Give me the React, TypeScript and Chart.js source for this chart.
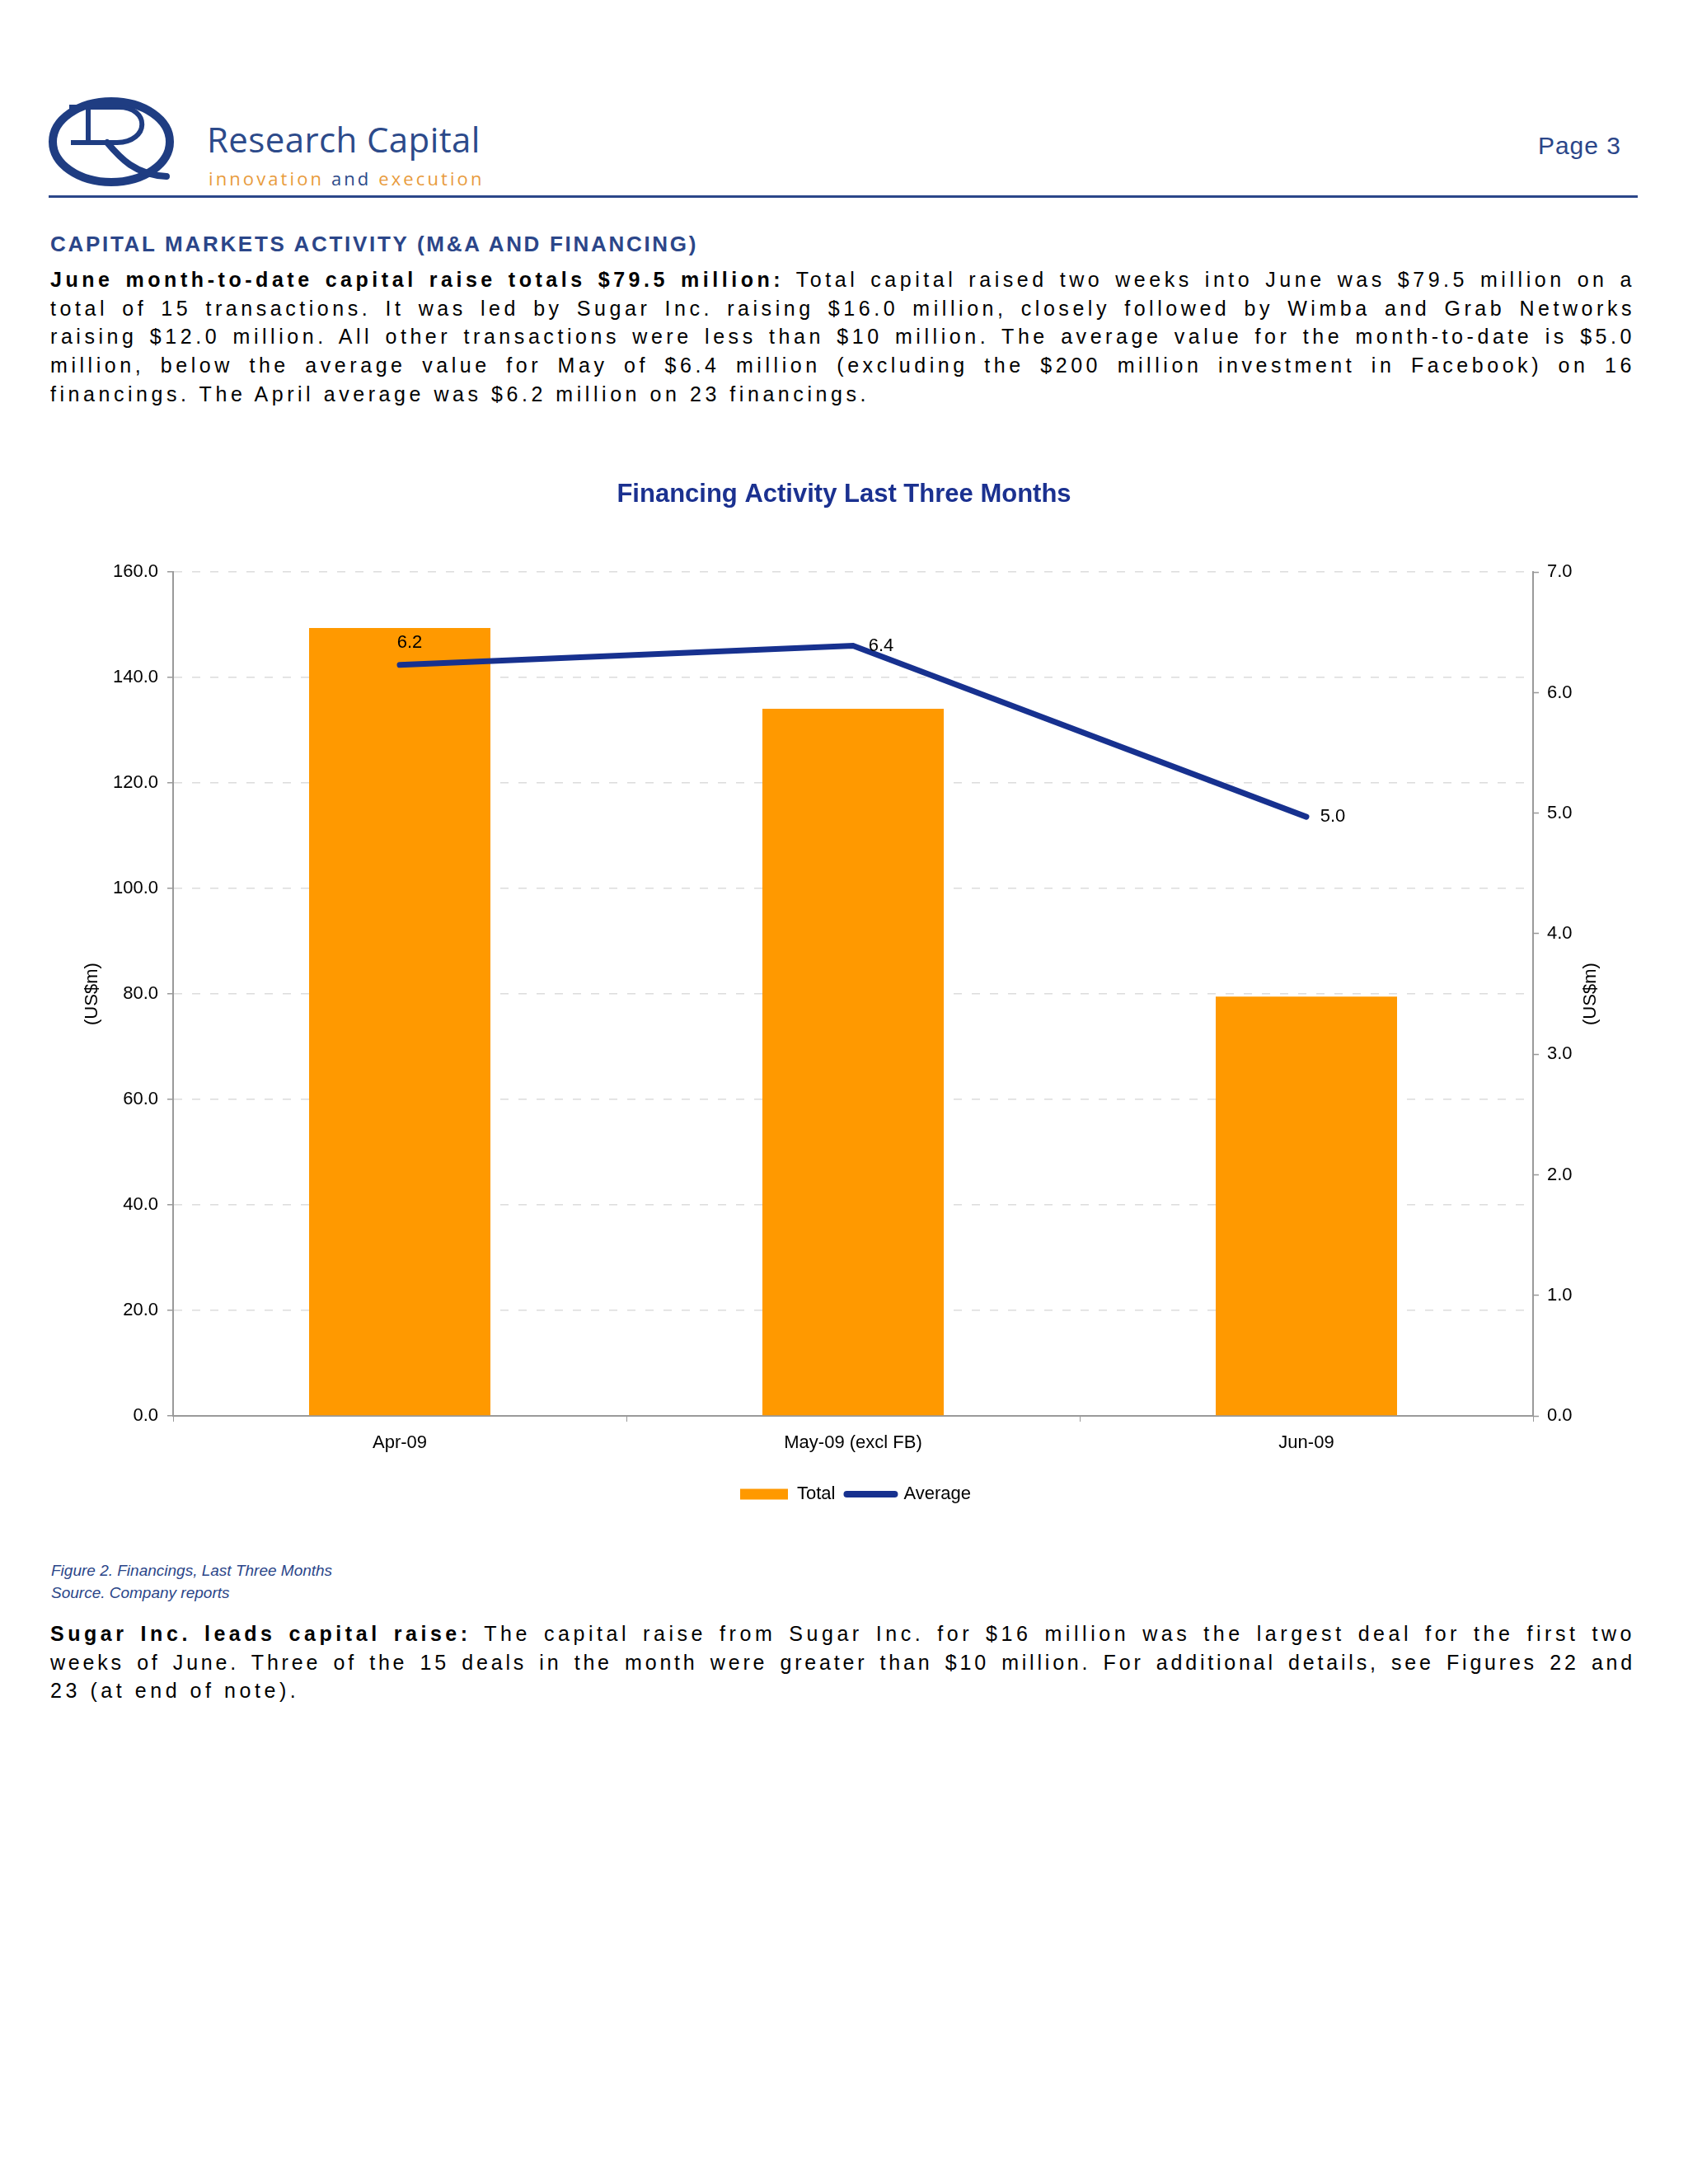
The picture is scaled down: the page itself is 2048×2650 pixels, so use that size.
import React, { useEffect, useRef } from 'react';
import { Chart, registerables } from 'chart.js';

Chart.register(...registerables);

// ---- data ----
const categories = ['Apr-09', 'May-09 (excl FB)', 'Jun-09'];
const totalValues = [149.4, 134.1, 79.5];
const averageValues = [6.23, 6.39, 4.97];
const leftAxisRange = [0, 160, 20];
const rightAxisRange = [0, 7, 1];
const seriesNames = ['Total', 'Average'];
const axisTitle = '(US$m)';
const chartTitle = 'Financing Activity Last Three Months';

const ORANGE = '#FF9900';
const NAVY = '#17318F';
const FONT = '"Liberation Sans", Arial, sans-serif';

const valueLabelPlugin = {
  id: 'valueLabels',
  afterDatasetsDraw(chart: any) {
    const meta = chart.getDatasetMeta(1);
    const offsets = [[12, -27], [34, 1], [32, 0]];
    const ctx = chart.ctx;
    ctx.save();
    ctx.font = `22px ${FONT}`;
    ctx.fillStyle = '#000';
    ctx.textAlign = 'center';
    ctx.textBaseline = 'middle';
    meta.data.forEach((pt: any, i: number) => {
      const o = offsets[i] || [0, -20];
      ctx.fillText(averageValues[i].toFixed(1), pt.x + o[0], pt.y + o[1]);
    });
    ctx.restore();
  },
};

const axisTitlePlugin = {
  id: 'axisTitles',
  afterDraw(chart: any) {
    const ctx = chart.ctx;
    const area = chart.chartArea;
    const cy = (area.top + area.bottom) / 2;
    ctx.save();
    ctx.font = `22px ${FONT}`;
    ctx.fillStyle = '#000';
    ctx.textAlign = 'center';
    ctx.textBaseline = 'middle';
    [112, 1930].forEach((x) => {
      ctx.save();
      ctx.translate(x, cy);
      ctx.rotate(-Math.PI / 2);
      ctx.fillText(axisTitle, 0, 0);
      ctx.restore();
    });
    ctx.restore();
  },
};

// nudges the legend block slightly right, as in the original figure
const legendShiftPlugin = {
  id: 'legendShift',
  afterLayout(chart: any) {
    if (chart.legend) {
      chart.legend.left += 14;
      chart.legend.right += 14;
    }
  },
};

function FinancingChart() {
  const ref = useRef<HTMLCanvasElement | null>(null);
  useEffect(() => {
    if (!ref.current) return;
    const chart = new Chart(ref.current, {
      type: 'bar',
      data: {
        labels: categories,
        datasets: [
          {
            type: 'bar',
            label: seriesNames[0],
            data: totalValues,
            backgroundColor: ORANGE,
            borderWidth: 0,
            barPercentage: 0.4,
            categoryPercentage: 1.0,
            yAxisID: 'y',
            order: 2,
          } as any,
          {
            type: 'line',
            label: seriesNames[1],
            data: averageValues,
            borderColor: NAVY,
            backgroundColor: NAVY,
            borderWidth: 7,
            borderCapStyle: 'round',
            borderJoinStyle: 'miter',
            pointRadius: 0,
            tension: 0,
            yAxisID: 'y1',
            order: 1,
          } as any,
        ],
      },
      options: {
        responsive: false,
        animation: false,
        devicePixelRatio: 1,
        layout: { padding: 0 },
        plugins: {
          title: {
            display: true,
            text: chartTitle,
            color: '#1B3190',
            font: { family: FONT, size: 31, weight: 'bold' },
            padding: { top: 42, bottom: 75 },
          },
          legend: {
            position: 'bottom',
            labels: {
              usePointStyle: true,
              pointStyleWidth: 58,
              boxHeight: 13,
              padding: 14,
              color: '#000',
              font: { family: FONT, size: 22 },
              generateLabels: () => [
                {
                  text: seriesNames[0],
                  fillStyle: ORANGE,
                  strokeStyle: ORANGE,
                  lineWidth: 0,
                  pointStyle: 'rect',
                  datasetIndex: 0,
                  hidden: false,
                },
                {
                  text: seriesNames[1],
                  fillStyle: NAVY,
                  strokeStyle: NAVY,
                  lineWidth: 8,
                  lineCap: 'round',
                  pointStyle: 'line',
                  datasetIndex: 1,
                  hidden: false,
                },
              ] as any,
            },
          },
          tooltip: { enabled: false },
        },
        scales: {
          x: {
            type: 'category',
            offset: true,
            grid: {
              offset: true,
              drawOnChartArea: false,
              drawTicks: true,
              tickLength: 7,
              tickColor: '#999',
              color: '#999',
            },
            border: { display: true, color: '#9a9a9a', width: 2 },
            ticks: {
              color: '#000',
              font: { family: FONT, size: 22 },
              padding: 13,
              maxRotation: 0,
            },
            afterFit: (s: any) => {
              s.height = 70;
            },
          },
          y: {
            position: 'left',
            min: leftAxisRange[0],
            max: leftAxisRange[1],
            ticks: {
              stepSize: leftAxisRange[2],
              color: '#000',
              font: { family: FONT, size: 22 },
              padding: 11,
              callback: (v: any) => Number(v).toFixed(1),
            },
            grid: {
              color: '#dcdcdc',
              lineWidth: 1.5,
              drawTicks: true,
              tickLength: 7,
              tickColor: '#999',
              tickBorderDash: [],
              tickWidth: 1.5,
            },
            border: { display: true, color: '#9a9a9a', width: 2, dash: [10, 12] },
            afterFit: (s: any) => {
              s.width = 210;
            },
          },
          y1: {
            position: 'right',
            min: rightAxisRange[0],
            max: rightAxisRange[1],
            ticks: {
              stepSize: rightAxisRange[2],
              color: '#000',
              font: { family: FONT, size: 22 },
              padding: 10,
              callback: (v: any) => Number(v).toFixed(1),
            },
            grid: {
              drawOnChartArea: false,
              drawTicks: true,
              tickLength: 7,
              tickColor: '#999',
              tickWidth: 1.5,
            },
            border: { display: true, color: '#9a9a9a', width: 2 },
            afterFit: (s: any) => {
              s.width = 188;
            },
          },
        },
      } as any,
      plugins: [valueLabelPlugin, axisTitlePlugin, legendShiftPlugin],
    });
    return () => chart.destroy();
  }, []);
  return (
    <canvas
      ref={ref}
      width={2048}
      height={1294}
      style={{ position: 'absolute', left: 0, top: 540, width: 2048, height: 1294 }}
    />
  );
}

const bodyText: React.CSSProperties = {
  fontFamily: FONT,
  fontSize: 25,
  letterSpacing: '4.55px',
  lineHeight: '34.7px',
  color: '#000',
};

const jl: React.CSSProperties = { textAlign: 'justify', textAlignLast: 'justify' as any };

function Logo() {
  const c = '#1F3D82';
  return (
    <svg
      width={170}
      height={120}
      viewBox="0 0 170 120"
      style={{ position: 'absolute', left: 54, top: 112 }}
    >
      <ellipse cx={81} cy={60} rx={71} ry={49} fill="none" stroke={c} strokeWidth={10} />
      <path d="M 30 18 L 90 18 C 128 18 128 60 88 61 L 32 61" fill="none" stroke={c} strokeWidth={6} />
      <path d="M 53 18 L 53 61" fill="none" stroke={c} strokeWidth={6} />
      <path d="M 76 61 C 92 80 110 100 148 102" fill="none" stroke={c} strokeWidth={8} strokeLinecap="round" />
    </svg>
  );
}

export default function App() {
  return (
    <div
      style={{
        position: 'absolute',
        left: 0,
        top: 0,
        width: 2048,
        height: 2650,
        background: '#fff',
        overflow: 'hidden',
      }}
    >
      <Logo />
      <div
        style={{
          position: 'absolute',
          left: 251,
          top: 148,
          fontFamily: '"Open Sans", sans-serif',
          fontSize: 42,
          lineHeight: '42px',
          letterSpacing: '0.4px',
          color: '#2C4A8A',
          whiteSpace: 'nowrap',
        }}
      >
        Research Capital
      </div>
      <div
        style={{
          position: 'absolute',
          left: 253,
          top: 205,
          fontFamily: '"Open Sans", sans-serif',
          fontSize: 22,
          lineHeight: '22px',
          letterSpacing: '3.1px',
          color: '#E89B3C',
          whiteSpace: 'nowrap',
        }}
      >
        innovation <span style={{ color: '#2C4A8A' }}>and</span> execution
      </div>
      <div
        style={{
          position: 'absolute',
          left: 1667,
          width: 300,
          top: 162,
          textAlign: 'right',
          fontFamily: FONT,
          fontSize: 30,
          lineHeight: '30px',
          letterSpacing: '1px',
          color: '#2B4689',
        }}
      >
        Page 3
      </div>
      <div
        style={{
          position: 'absolute',
          left: 59,
          top: 237,
          width: 1928,
          height: 3,
          background: '#2B4689',
        }}
      />
      <div
        style={{
          position: 'absolute',
          left: 61,
          top: 283,
          fontFamily: FONT,
          fontWeight: 'bold',
          fontSize: 26,
          lineHeight: '26px',
          letterSpacing: '2.7px',
          color: '#2B4689',
          whiteSpace: 'nowrap',
        }}
      >
        CAPITAL MARKETS ACTIVITY (M&amp;A AND FINANCING)
      </div>
      <div style={{ ...bodyText, position: 'absolute', left: 61, top: 322, width: 1923 }}>
        <div style={jl}>
          <b>June month-to-date capital raise totals $79.5 million:</b> Total capital raised two
          weeks into June was $79.5 million on a
        </div>
        <div style={jl}>
          total of 15 transactions. It was led by Sugar Inc. raising $16.0 million, closely followed
          by Wimba and Grab Networks
        </div>
        <div style={jl}>
          raising $12.0 million. All other transactions were less than $10 million. The average value
          for the month-to-date is $5.0
        </div>
        <div style={jl}>
          million, below the average value for May of $6.4 million (excluding the $200 million
          investment in Facebook) on 16
        </div>
        <div>financings. The April average was $6.2 million on 23 financings.</div>
      </div>

      <FinancingChart />

      <div
        style={{
          position: 'absolute',
          left: 62,
          top: 1892,
          fontFamily: FONT,
          fontStyle: 'italic',
          fontSize: 19,
          lineHeight: '27px',
          color: '#2B4689',
          whiteSpace: 'nowrap',
        }}
      >
        <div>Figure 2. Financings, Last Three Months</div>
        <div>Source. Company reports</div>
      </div>

      <div style={{ ...bodyText, position: 'absolute', left: 61, top: 1965, width: 1923 }}>
        <div style={jl}>
          <b>Sugar Inc. leads capital raise:</b> The capital raise from Sugar Inc. for $16 million
          was the largest deal for the first two
        </div>
        <div style={{ ...jl, letterSpacing: '3.8px' }}>
          weeks of June. Three of the 15 deals in the month were greater than $10 million. For
          additional details, see Figures 22 and
        </div>
        <div>23 (at end of note).</div>
      </div>
    </div>
  );
}
